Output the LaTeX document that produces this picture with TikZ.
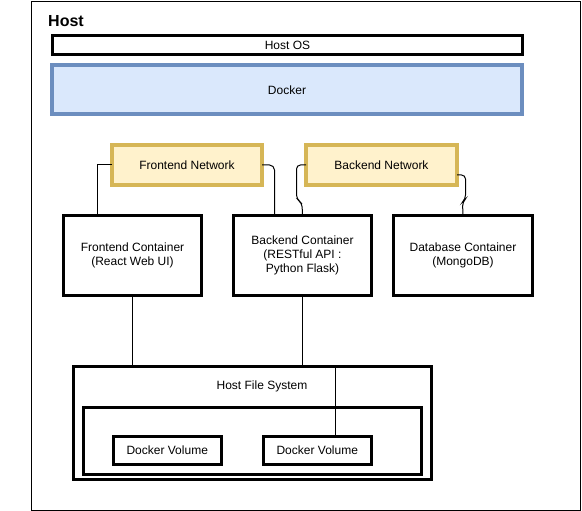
\documentclass[tikz,border=0pt]{standalone}
\usepackage{fontspec}
\setmainfont{Liberation Sans}
\definecolor{dockfill}{HTML}{DAE8FC}
\definecolor{dockline}{HTML}{6C8EBF}
\definecolor{netfill}{HTML}{FFF2CC}
\definecolor{netline}{HTML}{D6B656}
\tikzset{
  box/.style={draw=black, line width=3pt, fill=white, inner sep=0pt, outer sep=0pt,
    align=center, font=\fontsize{12}{14}\selectfont},
  netbox/.style={box, draw=netline, fill=netfill, line width=4pt},
  dockbox/.style={box, draw=dockline, fill=dockfill, line width=4pt},
  link/.style={draw=black, line width=1pt},
}
\begin{document}
\begin{tikzpicture}[x=1pt,y=-1pt]
\useasboundingbox (0,0) rectangle (582,511);
\node[draw=black, line width=1pt, inner sep=0pt, outer sep=0pt, minimum width=549pt, minimum height=508.5pt] (host) at (306,255.75) {};
\node[anchor=base west, inner sep=0pt, font=\fontsize{16}{18}\selectfont\bfseries] (hostlbl) at (48,26.7) {Host};
\node[box, minimum width=470pt, minimum height=19pt] (hostos) at (287.5,45.5) {Host OS};
\node[dockbox, minimum width=470pt, minimum height=49pt] (docker) at (287,90) {Docker};
\node[netbox, minimum width=150pt, minimum height=40pt] (fn) at (187,165) {Frontend Network};
\node[netbox, minimum width=151pt, minimum height=40pt] (bn) at (381.5,165) {Backend Network};
\node[box, minimum width=138pt, minimum height=80pt] (fc) at (132.5,255.5) {Frontend Container\\(React Web UI)};
\node[box, minimum width=138pt, minimum height=80pt] (bc) at (302.5,255.5) {Backend Container\\(RESTful API :\\Python Flask)};
\node[box, minimum width=139pt, minimum height=80pt] (dc) at (463,255.5) {Database Container\\(MongoDB)};
\node[box, minimum width=358pt, minimum height=113pt] (hfs) at (252,423) {};
\node[font=\fontsize{12}{14}\selectfont] (hfslbl) at (262,386) {Host File System};
\node[box, minimum width=338.5pt, minimum height=67pt] (inner) at (252.25,441) {};
\node[box, minimum width=108.5pt, minimum height=28pt] (dv1) at (167.25,450.5) {Docker Volume};
\node[box, minimum width=108.5pt, minimum height=28pt] (dv2) at (317.25,450.5) {Docker Volume};
% connectors
\draw[link] (fn.west) -| ([xshift=34pt]fc.north west);
\draw[link, rounded corners=5pt] (fn.east) -- ([xshift=41pt]bc.north west |- fn.east) -- ([xshift=41pt]bc.north west);
\draw[link, rounded corners=4pt] (bn.west) -- ++(-9.5,0) -- ++(0,34) -- ++(5.5,4) -- (bc.north);
\draw[link, rounded corners=4pt] ([yshift=-10pt]bn.east) -- ++(8.5,0) -- ++(0,24) -- ++(-3,3) -- (dc.north);
\draw[link] (fc.south) -- (fc.south |- hfs.north);
\draw[link] (bc.south) -- (bc.south |- hfs.north);
\draw[link] ([xshift=18.5pt]dv2.north) -- ([xshift=18.5pt]dv2.north |- hfs.north);
\end{tikzpicture}
\end{document}
